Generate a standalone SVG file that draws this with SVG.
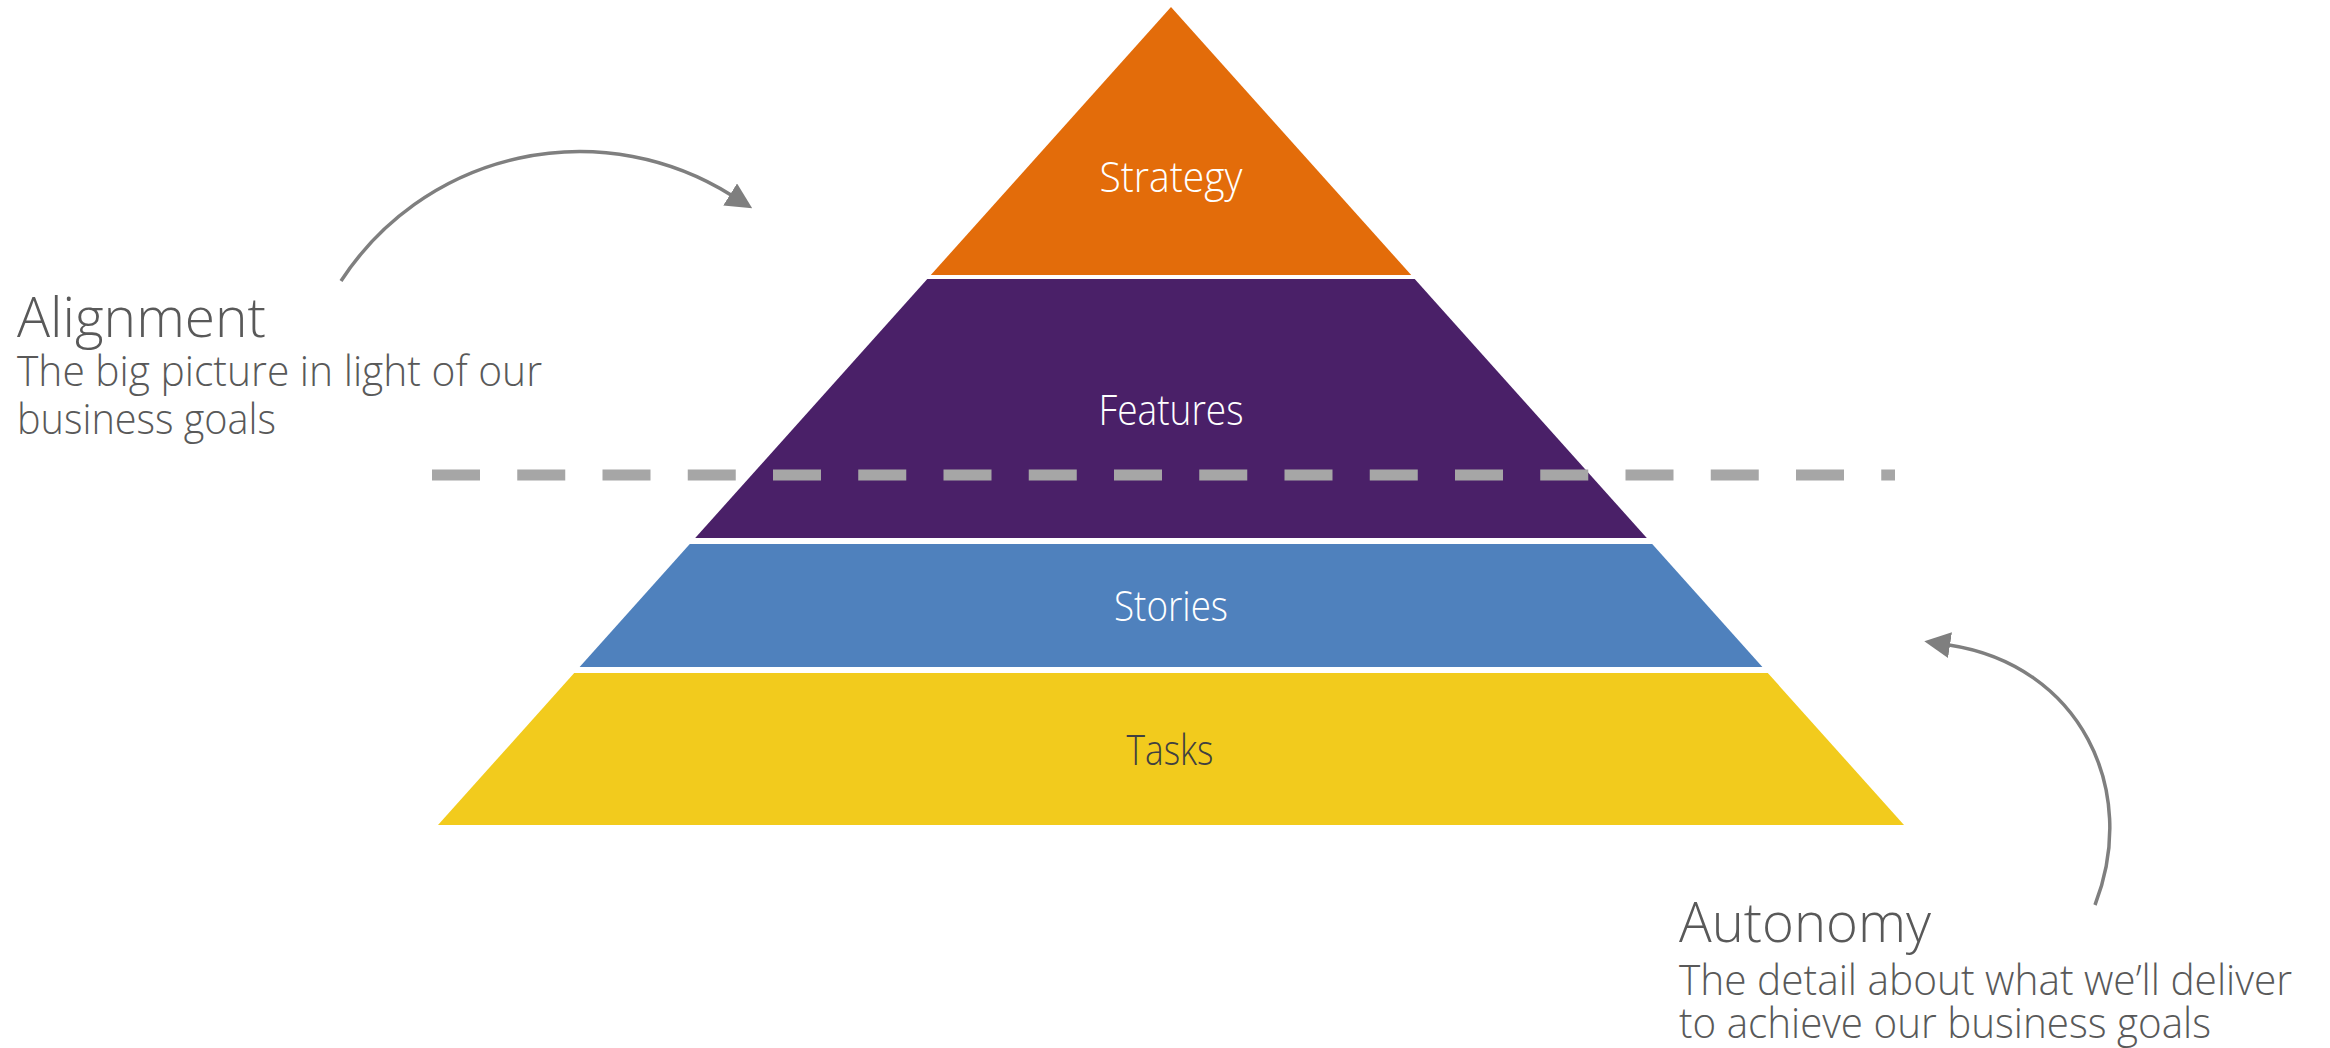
<svg xmlns="http://www.w3.org/2000/svg" width="2330" height="1048" viewBox="0 0 2330 1048">
  <style>
    .lbl { font-family: "Open Sans", "Liberation Sans", sans-serif; font-weight: 300; font-size: 42px; text-anchor: middle; }
    .white { fill: #FFFFFF; }
    .dark { fill: #404040; }
    .title { font-family: "Open Sans", "Liberation Sans", sans-serif; font-weight: 300; font-size: 56px; fill: #595959; }
    .sub { font-family: "Open Sans", "Liberation Sans", sans-serif; font-weight: 300; font-size: 43px; fill: #595959; }
    .conn { fill: none; stroke: #7F7F7F; stroke-width: 3.5; marker-end: url(#arrow); }
    .divider { fill: none; stroke: #A6A6A6; stroke-width: 11; stroke-dasharray: 48 37.25; }
  </style>
  <defs>
    <marker id="arrow" markerUnits="userSpaceOnUse" markerWidth="26" markerHeight="26" viewBox="0 0 26 26" refX="1" refY="13" orient="auto">
      <path d="M0,0 L26,13 L0,26 z" fill="#7F7F7F"/>
    </marker>
  </defs>
  <rect width="2330" height="1048" fill="#FFFFFF"/>

  <g id="strategy">
    <polygon points="1171,7 1411.2,275 930.8,275" fill="#E36C0A"/>
    <text class="lbl white" x="1171" y="192" textLength="143" lengthAdjust="spacingAndGlyphs">Strategy</text>
  </g>
  <g id="features">
    <polygon points="927.3,279 1414.7,279 1646.8,538 695.2,538" fill="#4A2068"/>
    <text class="lbl white" x="1171" y="425" textLength="145" lengthAdjust="spacingAndGlyphs">Features</text>
  </g>
  <g id="stories">
    <polygon points="689.8,544 1652.2,544 1762.4,667 579.6,667" fill="#4F81BD"/>
    <text class="lbl white" x="1171" y="621" textLength="114" lengthAdjust="spacingAndGlyphs">Stories</text>
  </g>
  <g id="tasks">
    <polygon points="574.2,673 1767.8,673 1904,825 438,825" fill="#F2CB1D"/>
    <text class="lbl dark" x="1170" y="765" textLength="87" lengthAdjust="spacingAndGlyphs">Tasks</text>
  </g>

  <g id="divider">
    <line class="divider" x1="432" y1="475" x2="1895" y2="475"/>
  </g>

  <g id="alignment">
    <text class="title" x="17" y="337" textLength="249" lengthAdjust="spacingAndGlyphs">Alignment</text>
    <text class="sub" x="17" y="386" textLength="525" lengthAdjust="spacingAndGlyphs">The big picture in light of our</text>
    <text class="sub" x="17" y="434" textLength="259" lengthAdjust="spacingAndGlyphs">business goals</text>
  </g>

  <g id="autonomy">
    <text class="title" x="1679" y="942" textLength="252" lengthAdjust="spacingAndGlyphs">Autonomy</text>
    <text class="sub" x="1679" y="995" textLength="613" lengthAdjust="spacingAndGlyphs">The detail about what we’ll deliver</text>
    <text class="sub" x="1679" y="1038" textLength="532" lengthAdjust="spacingAndGlyphs">to achieve our business goals</text>
  </g>

  <g id="connectors">
    <path class="conn" d="M341,281 A285,285 0 0 1 731,195"/>
    <path class="conn" d="M2095,905 C2140,790 2080,665 1949,645"/>
  </g>
</svg>
